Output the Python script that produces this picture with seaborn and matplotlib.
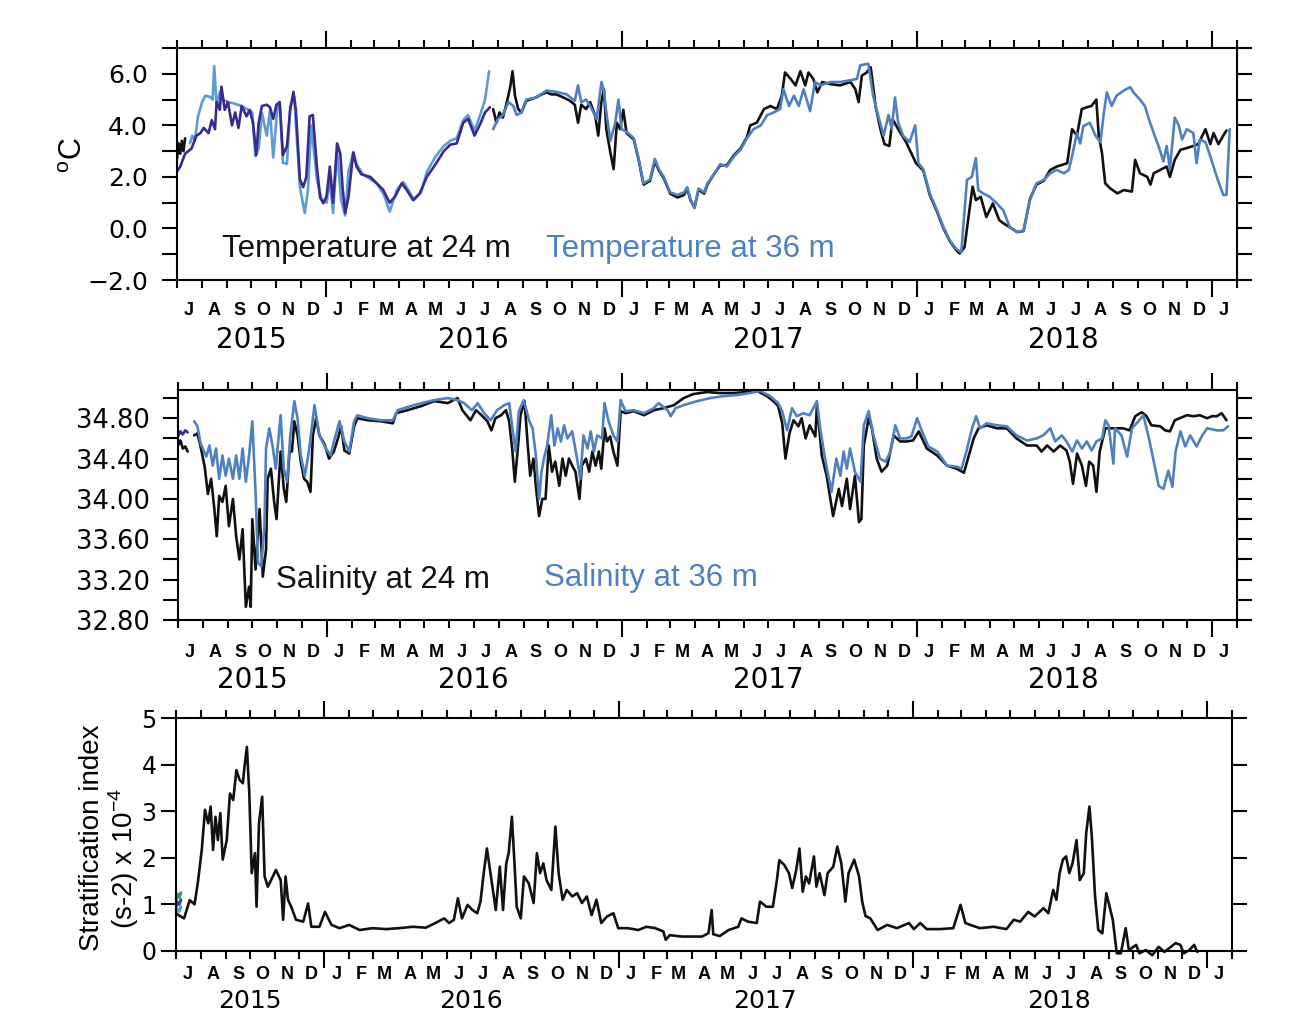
import pandas as pd
import seaborn as sns
import matplotlib.pyplot as plt
import matplotlib.dates as mdates
from matplotlib.ticker import FixedLocator, FixedFormatter, FuncFormatter, NullFormatter

# all series: (days since 2015-07-01, value)

# --- temperature (deg C) ---
temp24_first = [(0, 2.2), (4, 2.4), (10, 2.9), (14, 3.0), (18, 3.1), (24, 3.6), (29, 3.7), (33, 3.9),
                (39, 3.7), (43, 4.2), (47, 3.85), (49, 4.9), (53, 4.6), (55, 5.5), (59, 4.6), (63, 4.9),
                (68, 4.0), (72, 4.5), (76, 3.9), (80, 4.75), (86, 4.35), (90, 4.6), (94, 4.1), (98, 2.85),
                (101, 4.1), (105, 4.75), (111, 4.8), (115, 4.7), (119, 4.25), (123, 4.8), (127, 4.9),
                (131, 2.85), (136, 3.2), (140, 4.6), (144, 5.3), (147, 4.6), (152, 1.9), (156, 1.6),
                (160, 2.0), (164, 4.35), (168, 4.4), (173, 2.4), (177, 1.2), (181, 0.98), (185, 1.25),
                (189, 2.4), (193, 1.0), (198, 3.3), (202, 2.9), (205, 1.5), (208, 0.6), (212, 1.2),
                (218, 2.95), (222, 2.4), (228, 2.1), (239, 2.0), (247, 1.75), (255, 1.5), (263, 1.0),
                (270, 1.25), (278, 1.75), (284, 1.5), (292, 1.1), (300, 1.35), (309, 2.0), (320, 2.5),
                (330, 3.0), (338, 3.25), (346, 3.3), (354, 4.1), (360, 4.25), (368, 3.6), (375, 4.05),
                (381, 4.5), (387, 4.7)]

temp36_first = [(16, 3.3), (19, 3.6), (22, 3.4), (26, 4.35), (31, 4.9), (35, 5.15), (41, 5.1), (44, 5.0),
                (46, 6.3), (49, 4.75), (53, 5.3), (57, 5.0), (63, 4.9), (70, 4.85), (80, 4.75), (88, 4.6),
                (93, 4.5), (97, 2.8), (101, 3.1), (105, 4.5), (111, 3.6), (115, 4.6), (119, 2.75),
                (124, 4.6), (127, 4.9), (131, 2.55), (136, 2.5), (140, 4.75), (145, 5.1), (148, 3.6),
                (152, 1.6), (158, 0.6), (162, 1.5), (166, 4.0), (173, 1.9), (179, 1.1), (185, 1.0),
                (189, 1.9), (193, 0.6), (198, 3.0), (203, 1.1), (208, 0.5), (212, 2.2), (218, 2.95),
                (222, 2.5), (230, 2.1), (247, 1.75), (256, 1.3), (263, 0.65), (272, 1.5), (280, 1.8),
                (286, 1.5), (293, 1.1), (302, 1.4), (309, 2.2), (320, 2.8), (330, 3.2), (338, 3.4),
                (346, 3.5), (354, 4.2), (360, 4.4), (368, 3.8), (375, 4.4), (381, 5.0), (386, 6.1)]

temp24_start = [(0, 2.7), (2, 3.3), (4, 2.9), (6, 3.4), (8, 3.0), (10, 3.5)]

temp24 = [(391, 4.63), (395, 4.1), (399, 4.5), (403, 4.3), (408, 4.9), (412, 5.47), (415, 6.1), (418, 5.15),
          (422, 4.63), (426, 4.5), (432, 4.95), (444, 5.08), (451, 5.2), (457, 5.28), (463, 5.2), (469, 5.2),
          (478, 5.08), (486, 4.95), (492, 4.8), (496, 4.1), (500, 4.8), (506, 4.63), (511, 4.9), (517, 4.4),
          (521, 3.6), (525, 4.95), (528, 5.4), (531, 3.85), (536, 2.94), (540, 2.3), (544, 4.1), (548, 3.85),
          (552, 4.6), (556, 3.7), (565, 3.45), (571, 2.65), (577, 1.7), (585, 1.85), (591, 2.6), (596, 2.25),
          (602, 1.95), (610, 1.35), (619, 1.2), (627, 1.3), (631, 1.55), (635, 1.1), (640, 0.8), (645, 1.5),
          (652, 1.35), (656, 1.7), (664, 2.1), (672, 2.45), (680, 2.45), (689, 2.85), (697, 3.1), (705, 3.55),
          (709, 4.0), (717, 4.1), (726, 4.63), (734, 4.75), (742, 4.63), (748, 5.15), (752, 6.05), (759, 5.8),
          (765, 5.55), (771, 6.1), (777, 5.55), (781, 6.05), (787, 5.8), (792, 5.28), (798, 5.68), (808, 5.6),
          (820, 5.55), (833, 5.68), (839, 5.4), (843, 4.9), (847, 5.93), (853, 6.05), (858, 6.25), (864, 4.75),
          (870, 3.85), (875, 3.27), (881, 3.2), (885, 4.24), (892, 3.85), (902, 3.33), (914, 2.53),
          (923, 2.25), (931, 1.3), (940, 0.65), (948, 0.0), (956, -0.5), (964, -0.85), (968, -0.97),
          (974, -0.73), (980, 0.7), (984, 1.62), (988, 1.1), (994, 1.23), (1001, 0.44), (1009, 0.97),
          (1017, 0.32), (1023, 0.18), (1030, 0.05), (1039, -0.14), (1047, -0.1), (1055, 1.15), (1063, 1.7),
          (1072, 1.85), (1080, 2.27), (1088, 2.4), (1101, 2.53), (1107, 3.85), (1113, 3.6), (1119, 4.63),
          (1125, 4.7), (1131, 4.75), (1137, 5.0), (1140, 3.6), (1144, 2.93), (1148, 1.75), (1154, 1.56),
          (1163, 1.36), (1171, 1.49), (1181, 1.43), (1185, 2.66), (1191, 2.14), (1200, 2.0), (1204, 1.7),
          (1208, 2.14), (1216, 2.27), (1224, 2.4), (1228, 2.0), (1234, 2.66), (1241, 3.05), (1249, 3.12),
          (1257, 3.2), (1263, 3.27), (1272, 3.85), (1278, 3.27), (1282, 3.7), (1288, 3.27), (1294, 3.6),
          (1298, 3.8)]

temp36 = [(391, 3.85), (397, 4.25), (403, 4.4), (410, 4.9), (416, 4.75), (420, 4.4), (426, 4.5), (432, 5.0),
          (444, 5.08), (457, 5.35), (469, 5.3), (482, 5.2), (492, 4.95), (496, 5.55), (500, 4.9), (506, 5.0),
          (511, 4.75), (519, 4.25), (525, 5.68), (528, 5.35), (531, 4.5), (536, 3.4), (542, 4.1), (546, 5.0),
          (550, 3.85), (556, 3.75), (565, 3.5), (571, 2.7), (577, 1.75), (585, 1.9), (591, 2.7), (596, 2.3),
          (602, 2.0), (610, 1.4), (619, 1.3), (627, 1.4), (631, 1.6), (635, 1.15), (640, 0.8), (645, 1.55),
          (652, 1.4), (656, 1.75), (664, 2.1), (672, 2.5), (680, 2.4), (689, 2.8), (697, 3.05), (705, 3.5),
          (713, 3.85), (722, 4.0), (730, 4.4), (738, 4.5), (746, 4.63), (750, 5.4), (757, 4.75), (763, 5.15),
          (769, 4.75), (775, 5.4), (783, 4.55), (789, 5.68), (796, 5.55), (808, 5.68), (820, 5.68),
          (833, 5.75), (841, 5.8), (845, 6.33), (855, 6.39), (861, 5.15), (867, 4.4), (874, 3.6), (880, 4.4),
          (884, 3.85), (888, 5.08), (892, 4.1), (898, 3.6), (906, 3.35), (913, 4.0), (917, 2.53), (923, 2.3),
          (931, 1.36), (940, 0.7), (948, 0.05), (956, -0.47), (964, -0.8), (970, -0.92), (977, 1.88),
          (983, 2.0), (988, 2.73), (991, 1.49), (997, 1.36), (1005, 1.23), (1014, 0.97), (1022, 0.7),
          (1030, 0.05), (1039, -0.14), (1047, -0.08), (1055, 1.1), (1063, 1.75), (1072, 1.88), (1080, 2.14),
          (1088, 2.27), (1097, 2.14), (1103, 2.27), (1107, 2.8), (1113, 3.7), (1117, 3.3), (1121, 3.97),
          (1129, 4.1), (1136, 3.6), (1142, 3.35), (1146, 4.4), (1150, 5.28), (1156, 4.75), (1162, 5.15),
          (1171, 5.35), (1179, 5.48), (1183, 5.28), (1191, 5.0), (1197, 4.75), (1202, 4.24), (1208, 3.7),
          (1214, 3.2), (1220, 2.6), (1224, 3.2), (1228, 2.3), (1234, 4.3), (1239, 4.0), (1243, 3.45),
          (1249, 3.85), (1257, 3.7), (1261, 2.53), (1265, 3.45), (1272, 3.35), (1278, 2.8), (1286, 2.0),
          (1294, 1.3), (1298, 1.3), (1302, 3.85)]

# --- salinity ---
sal_first = [(0, 34.62), (3, 34.67), (6, 34.64), (9, 34.68), (12, 34.66)]
sal24_start = [(0, 34.53), (3, 34.58), (6, 34.5), (9, 34.52), (12, 34.47)]

sal24 = [(20, 34.63), (24, 34.65), (28, 34.52), (33, 34.32), (37, 34.05), (41, 34.2), (45, 33.9), (48, 33.63),
         (51, 34.03), (55, 33.97), (59, 34.13), (63, 33.73), (68, 34.0), (72, 33.63), (76, 33.4), (80, 33.7),
         (84, 32.93), (88, 33.13), (90, 32.93), (92, 33.8), (96, 33.3), (101, 33.9), (105, 33.23), (109, 33.5),
         (111, 34.2), (115, 34.3), (119, 33.97), (122, 33.8), (127, 34.47), (131, 34.1), (134, 33.97),
         (138, 34.47), (141, 34.47), (144, 34.77), (148, 34.63), (152, 34.37), (156, 34.2), (160, 34.17),
         (164, 34.07), (167, 34.63), (171, 34.8), (175, 34.63), (181, 34.55), (187, 34.4), (193, 34.47),
         (198, 34.6), (202, 34.72), (206, 34.48), (212, 34.45), (218, 34.72), (222, 34.8), (235, 34.78),
         (251, 34.77), (266, 34.75), (270, 34.85), (284, 34.88), (301, 34.92), (317, 34.97), (334, 34.95),
         (346, 35.0), (352, 34.88), (362, 34.78), (369, 34.88), (377, 34.82), (383, 34.77), (388, 34.68),
         (393, 34.8), (400, 34.83), (406, 34.88), (410, 34.77), (414, 34.47), (417, 34.17), (421, 34.53),
         (424, 34.83), (429, 34.97), (433, 34.53), (436, 34.23), (440, 34.4), (443, 34.13), (447, 33.83),
         (451, 34.0), (455, 34.0), (459, 34.53), (463, 34.27), (467, 34.37), (472, 34.13), (476, 34.4),
         (480, 34.23), (484, 34.4), (488, 34.33), (492, 34.27), (497, 34.0), (500, 34.33), (505, 34.4),
         (509, 34.27), (513, 34.47), (517, 34.33), (521, 34.47), (524, 34.3), (528, 34.7), (531, 34.57),
         (535, 34.62), (539, 34.47), (544, 34.33), (548, 34.87), (554, 34.85), (564, 34.87), (577, 34.83),
         (589, 34.88), (601, 34.9), (614, 34.93), (626, 35.0), (638, 35.04), (655, 35.06), (671, 35.05),
         (688, 35.05), (704, 35.06), (717, 35.07), (729, 35.02), (737, 34.97), (743, 34.92), (748, 34.75),
         (752, 34.4), (757, 34.65), (762, 34.78), (768, 34.72), (772, 34.8), (777, 34.6), (782, 34.73),
         (789, 34.62), (791, 34.93), (797, 34.43), (803, 34.23), (811, 33.83), (818, 34.1), (822, 33.93),
         (828, 34.2), (832, 33.9), (838, 34.23), (843, 33.77), (846, 33.8), (849, 34.53), (855, 34.8),
         (859, 34.7), (865, 34.4), (871, 34.27), (878, 34.33), (886, 34.63), (894, 34.57), (902, 34.57),
         (910, 34.58), (917, 34.67), (927, 34.5), (940, 34.43), (952, 34.33), (964, 34.3), (973, 34.26),
         (978, 34.4), (985, 34.6), (991, 34.7), (1001, 34.73), (1014, 34.7), (1026, 34.7), (1038, 34.6),
         (1051, 34.53), (1063, 34.53), (1069, 34.47), (1076, 34.53), (1084, 34.47), (1092, 34.53),
         (1100, 34.48), (1104, 34.37), (1108, 34.15), (1113, 34.45), (1119, 34.33), (1124, 34.13),
         (1128, 34.37), (1133, 34.33), (1137, 34.07), (1141, 34.47), (1148, 34.7), (1158, 34.7), (1170, 34.7),
         (1178, 34.68), (1185, 34.82), (1193, 34.86), (1199, 34.82), (1205, 34.73), (1216, 34.72),
         (1222, 34.68), (1228, 34.67), (1234, 34.78), (1240, 34.8), (1249, 34.83), (1257, 34.82),
         (1265, 34.83), (1274, 34.8), (1280, 34.82), (1286, 34.82), (1292, 34.85), (1298, 34.78)]

sal36 = [(20, 34.77), (24, 34.72), (28, 34.55), (35, 34.42), (39, 34.53), (43, 34.33), (47, 34.5), (51, 34.2),
         (55, 34.43), (59, 34.23), (63, 34.4), (68, 34.2), (72, 34.43), (76, 34.2), (80, 34.5), (84, 34.17),
         (88, 34.43), (92, 34.77), (96, 34.07), (99, 33.37), (103, 33.33), (107, 33.73), (109, 34.5),
         (113, 34.7), (117, 34.53), (121, 34.3), (127, 34.83), (131, 34.3), (135, 34.17), (139, 34.63),
         (144, 34.97), (148, 34.8), (152, 34.43), (157, 34.23), (162, 34.47), (169, 34.93), (175, 34.63),
         (183, 34.5), (189, 34.43), (193, 34.57), (200, 34.77), (206, 34.57), (212, 34.47), (218, 34.77),
         (222, 34.83), (235, 34.8), (251, 34.78), (266, 34.78), (272, 34.88), (292, 34.93), (317, 34.98),
         (334, 35.0), (346, 34.98), (354, 34.95), (364, 34.88), (371, 34.95), (379, 34.85), (387, 34.78),
         (395, 34.88), (404, 34.93), (410, 34.95), (414, 34.7), (418, 34.47), (422, 34.87), (428, 34.98),
         (435, 34.77), (439, 34.7), (443, 34.43), (447, 34.0), (450, 34.27), (453, 34.4), (457, 34.53),
         (462, 34.83), (466, 34.53), (470, 34.7), (474, 34.57), (478, 34.73), (482, 34.6), (488, 34.67),
         (494, 34.4), (498, 34.2), (502, 34.63), (507, 34.5), (511, 34.67), (515, 34.47), (519, 34.63),
         (525, 34.6), (528, 34.95), (533, 34.77), (539, 34.63), (544, 34.57), (548, 34.98), (554, 34.87),
         (564, 34.88), (577, 34.85), (589, 34.9), (595, 34.95), (606, 34.88), (610, 34.82), (616, 34.9),
         (626, 34.93), (643, 34.97), (659, 35.0), (676, 35.02), (692, 35.03), (708, 35.05), (721, 35.07),
         (733, 35.02), (743, 34.95), (748, 34.87), (754, 34.68), (760, 34.9), (766, 34.82), (774, 34.85),
         (782, 34.83), (791, 34.97), (795, 34.7), (801, 34.4), (809, 34.07), (815, 34.4), (820, 34.23),
         (824, 34.47), (828, 34.3), (832, 34.5), (838, 34.27), (845, 34.17), (849, 34.73), (855, 34.87),
         (861, 34.63), (869, 34.4), (876, 34.37), (882, 34.47), (888, 34.73), (894, 34.6), (902, 34.6),
         (908, 34.62), (915, 34.8), (921, 34.67), (929, 34.52), (940, 34.47), (952, 34.33), (964, 34.32),
         (970, 34.3), (976, 34.47), (983, 34.7), (988, 34.82), (993, 34.7), (1001, 34.75), (1014, 34.73),
         (1026, 34.72), (1038, 34.63), (1051, 34.58), (1063, 34.6), (1071, 34.63), (1080, 34.7),
         (1086, 34.57), (1094, 34.63), (1100, 34.57), (1107, 34.47), (1113, 34.58), (1119, 34.5),
         (1125, 34.57), (1131, 34.48), (1137, 34.57), (1144, 34.6), (1148, 34.78), (1152, 34.73),
         (1158, 34.35), (1160, 34.7), (1168, 34.63), (1175, 34.42), (1181, 34.7), (1189, 34.77),
         (1195, 34.83), (1202, 34.6), (1208, 34.37), (1214, 34.13), (1220, 34.1), (1226, 34.28),
         (1231, 34.12), (1235, 34.47), (1241, 34.67), (1247, 34.52), (1253, 34.63), (1261, 34.52),
         (1268, 34.63), (1274, 34.7), (1286, 34.68), (1294, 34.68), (1300, 34.72)]

# --- stratification index (x 1e-4 s-2) ---
strat_green = [(0, 1.1), (2, 1.22), (4, 1.15), (6, 1.25)]
strat_purple = [(0, 0.95), (2, 1.05), (4, 1.0), (6, 1.1)]
strat_cyan = [(0, 0.82), (2, 0.9), (4, 0.85), (6, 0.95)]

strat = [(0, 0.81), (5, 0.75), (10, 0.7), (17, 1.09), (23, 1.0), (27, 1.45), (32, 2.17), (36, 3.03), (40, 2.74),
         (43, 3.1), (46, 2.17), (49, 2.88), (52, 2.38), (55, 2.96), (58, 1.96), (63, 2.38), (67, 3.38),
         (71, 3.24), (75, 3.88), (79, 3.67), (83, 3.6), (85, 3.95), (88, 4.38), (91, 3.38), (94, 1.67),
         (98, 2.1), (100, 0.95), (103, 2.74), (107, 3.31), (110, 1.6), (114, 1.38), (118, 1.52), (124, 1.74),
         (130, 1.52), (133, 0.67), (136, 1.6), (139, 1.1), (143, 0.95), (149, 0.67), (158, 0.63), (164, 1.02),
         (168, 0.52), (178, 0.52), (185, 0.84), (193, 0.56), (203, 0.49), (215, 0.56), (228, 0.45),
         (244, 0.49), (261, 0.47), (277, 0.49), (294, 0.52), (310, 0.5), (322, 0.6), (333, 0.7), (339, 0.6),
         (345, 0.67), (350, 1.13), (355, 0.7), (362, 0.99), (368, 0.88), (374, 0.81), (378, 1.06), (382, 1.67),
         (386, 2.2), (391, 1.6), (397, 0.88), (402, 1.81), (406, 0.88), (410, 1.88), (413, 2.1), (417, 2.88),
         (420, 1.95), (423, 0.95), (428, 0.7), (432, 1.6), (438, 1.45), (444, 1.03), (448, 2.1), (452, 1.67),
         (456, 1.88), (460, 1.52), (466, 1.31), (471, 2.67), (475, 1.67), (480, 1.1), (485, 1.31), (492, 1.17),
         (498, 1.24), (504, 1.03), (510, 1.17), (516, 0.77), (522, 1.1), (528, 0.6), (535, 0.74), (543, 0.81),
         (549, 0.49), (561, 0.49), (574, 0.45), (584, 0.52), (595, 0.49), (605, 0.42), (608, 0.24),
         (613, 0.34), (628, 0.31), (640, 0.31), (653, 0.31), (661, 0.38), (665, 0.88), (667, 0.36),
         (675, 0.32), (686, 0.45), (698, 0.52), (702, 0.7), (710, 0.63), (721, 0.6), (725, 1.06), (733, 0.95),
         (741, 0.95), (746, 1.52), (749, 1.95), (755, 1.85), (761, 1.67), (765, 1.35), (770, 1.74), (774, 2.2),
         (778, 1.27), (782, 1.6), (786, 1.45), (792, 2.03), (795, 1.38), (799, 1.67), (805, 1.2), (809, 1.67),
         (816, 1.81), (821, 2.24), (826, 1.88), (831, 1.06), (835, 1.67), (842, 1.96), (848, 1.6),
         (852, 1.05), (856, 0.75), (862, 0.7), (871, 0.45), (883, 0.56), (895, 0.49), (910, 0.6), (916, 0.47),
         (924, 0.6), (932, 0.47), (949, 0.47), (965, 0.49), (974, 0.99), (980, 0.6), (986, 0.56), (998, 0.49),
         (1015, 0.52), (1031, 0.47), (1040, 0.67), (1048, 0.63), (1058, 0.84), (1066, 0.74), (1077, 0.92),
         (1083, 0.81), (1089, 1.31), (1093, 1.1), (1097, 1.67), (1101, 1.96), (1105, 2.03), (1109, 1.67),
         (1113, 1.88), (1118, 2.38), (1122, 1.52), (1127, 1.67), (1130, 2.53), (1134, 3.1), (1137, 2.45),
         (1141, 1.17), (1145, 0.45), (1150, 0.38), (1155, 1.24), (1159, 0.95), (1163, 0.67), (1168, -0.05),
         (1173, -0.05), (1179, 0.49), (1183, 0.02), (1192, 0.13), (1196, -0.05), (1204, 0.02), (1212, -0.09),
         (1220, 0.09), (1227, -0.02), (1233, 0.06), (1241, 0.17), (1247, 0.13), (1251, -0.05), (1258, 0.02),
         (1264, 0.13), (1268, -0.02)]

# axis labels / ticks
month_letters = "JFMAMJJASOND"
year_pos = ["2015-10-01", "2016-07-01", "2017-07-01", "2018-07-01"]
year_labels = ["2015", "2016", "2017", "2018"]
temp_ticks = [-2, 0, 2, 4, 6]
temp_minor = [-1, 1, 3, 5, 7]
sal_ticks = [32.8, 33.2, 33.6, 34.0, 34.4, 34.8]
sal_minor = [33.0, 33.4, 33.8, 34.2, 34.6, 35.0]
strat_ticks = [0, 1, 2, 3, 4, 5]

BLACK = "#111111"
BLUE = "#4f80c0"
LIGHT = "#5d9bd6"
PURPLE = "#3a2a8c"

sns.set_theme(style="ticks", rc={"axes.edgecolor": "black", "xtick.color": "black",
                                 "ytick.color": "black", "text.color": "black"})
plt.rcParams['font.family'] = ['DejaVu Sans']
plt.rcParams['mathtext.fontset'] = 'custom'
plt.rcParams['mathtext.rm'] = 'Liberation Sans'

START = pd.Timestamp("2015-07-01")


def frame(pairs):
    d, v = zip(*pairs)
    return pd.DataFrame({"date": START + pd.to_timedelta(list(d), unit="D"), "value": v})


def draw(ax, pairs, color, lw=1.9, **kw):
    sns.lineplot(data=frame(pairs), x="date", y="value", ax=ax, color=color,
                 linewidth=lw, estimator=None, **kw)


def time_axis(ax, mpad, ypad, ysize=20):
    ax.set_xlim(pd.Timestamp("2015-07-01"), pd.Timestamp("2019-02-01"))
    ax.xaxis.set_major_locator(mdates.YearLocator())
    ax.xaxis.set_minor_locator(mdates.MonthLocator())
    ax.xaxis.set_major_formatter(NullFormatter())
    ax.xaxis.set_minor_formatter(NullFormatter())
    ax.tick_params(axis="x", which="both", bottom=True, top=True, direction="out", width=1.5)
    ax.tick_params(axis="x", which="major", length=12)
    ax.tick_params(axis="x", which="minor", length=6)
    ax.set_xlabel("")
    ax.set_ylabel("")
    for s in ax.spines.values():
        s.set_visible(True)
        s.set_linewidth(1.5)

    mon = ax.secondary_xaxis("bottom")
    mon.xaxis.set_major_locator(mdates.MonthLocator(bymonthday=16))
    mon.xaxis.set_major_formatter(
        FuncFormatter(lambda x, p: month_letters[mdates.num2date(x).month - 1]))
    mon.tick_params(length=0, pad=mpad, labelsize=13, labelfontfamily="Liberation Sans")
    for lbl in mon.get_xticklabels():
        lbl.set_fontweight("bold")
    mon.spines["bottom"].set_visible(False)

    yr = ax.secondary_xaxis("bottom")
    yr.xaxis.set_major_locator(FixedLocator(mdates.date2num(pd.to_datetime(year_pos))))
    yr.xaxis.set_major_formatter(FixedFormatter(year_labels))
    yr.tick_params(length=0, pad=ypad, labelsize=ysize)
    yr.spines["bottom"].set_visible(False)


def y_axis(ax, pad, size):
    ax.tick_params(axis="y", which="both", left=True, right=True, direction="out",
                   length=11, width=1.5, labelsize=size, pad=pad)


fig = plt.figure(figsize=(13, 10.18), dpi=100)
fig.patch.set_facecolor("white")

# ---- temperature ----
ax1 = fig.add_axes([177 / 1300, 1 - 280 / 1018, 1060 / 1300, 232 / 1018])
draw(ax1, temp36_first, LIGHT)
draw(ax1, temp24_first, PURPLE)
draw(ax1, temp24_start, BLACK)
draw(ax1, temp24, BLACK)
draw(ax1, temp36, BLUE)
ax1.set_ylim(-2, 7)
ax1.yaxis.set_major_locator(FixedLocator(temp_ticks))
ax1.yaxis.set_minor_locator(FixedLocator(temp_minor))
ax1.yaxis.set_major_formatter(FuncFormatter(lambda v, p: f"{v:.1f}".replace("-", "\u2212")))
y_axis(ax1, 10, 18)
time_axis(ax1, 16, 33)
ax1.text(0.0425, 0.134, "Temperature at 24 m", transform=ax1.transAxes, fontsize=22.5,
         family="Liberation Sans", va="center", ha="left", color=BLACK)
ax1.text(0.348, 0.134, "Temperature at 36 m", transform=ax1.transAxes, fontsize=22.5,
         family="Liberation Sans", va="center", ha="left", color=BLUE)
ax1.text(-0.097, 0.54, "$^{\\rm o}$C", transform=ax1.transAxes, fontsize=22, rotation=90,
         family="Liberation Sans", va="center", ha="center")

# ---- salinity ----
ax2 = fig.add_axes([178 / 1300, 1 - 620 / 1018, 1059 / 1300, 230 / 1018])
draw(ax2, sal24_start, BLACK)
draw(ax2, sal_first, PURPLE)
draw(ax2, sal24, BLACK)
draw(ax2, sal36, BLUE)
ax2.set_ylim(32.8, 35.08)
ax2.yaxis.set_major_locator(FixedLocator(sal_ticks))
ax2.yaxis.set_minor_locator(FixedLocator(sal_minor))
ax2.yaxis.set_major_formatter(FuncFormatter(lambda v, p: f"{v:.2f}"))
y_axis(ax2, 9, 18.5)
time_axis(ax2, 17, 33)
ax2.text(0.0925, 0.174, "Salinity at 24 m", transform=ax2.transAxes, fontsize=22.5,
         family="Liberation Sans", va="center", ha="left", color=BLACK)
ax2.text(0.3456, 0.183, "Salinity at 36 m", transform=ax2.transAxes, fontsize=22.5,
         family="Liberation Sans", va="center", ha="left", color=BLUE)

# ---- stratification ----
ax3 = fig.add_axes([176 / 1300, 1 - 951 / 1018, 1056 / 1300, 233 / 1018])
draw(ax3, strat, BLACK, clip_on=False)
draw(ax3, strat_green, "#2e9a6a", lw=2.2)
draw(ax3, strat_purple, "#4a3aa0", lw=2.2)
draw(ax3, strat_cyan, "#2ab0d8", lw=2.2)
ax3.set_ylim(0, 5)
ax3.yaxis.set_major_locator(FixedLocator(strat_ticks))
ax3.yaxis.set_major_formatter(FuncFormatter(lambda v, p: f"{v:.0f}"))
y_axis(ax3, 3, 17)
time_axis(ax3, 11, 27, ysize=18)
ax3.text(-0.0795, 0.485, "Stratification index", transform=ax3.transAxes, fontsize=20,
         rotation=90, family="Liberation Sans", va="center", ha="center")
ax3.text(-0.0492, 0.399, "(s-2) x 10$^{-4}$", transform=ax3.transAxes, fontsize=20,
         rotation=90, family="Liberation Sans", va="center", ha="center")

fig.savefig("out.png", dpi=100, facecolor="white")
